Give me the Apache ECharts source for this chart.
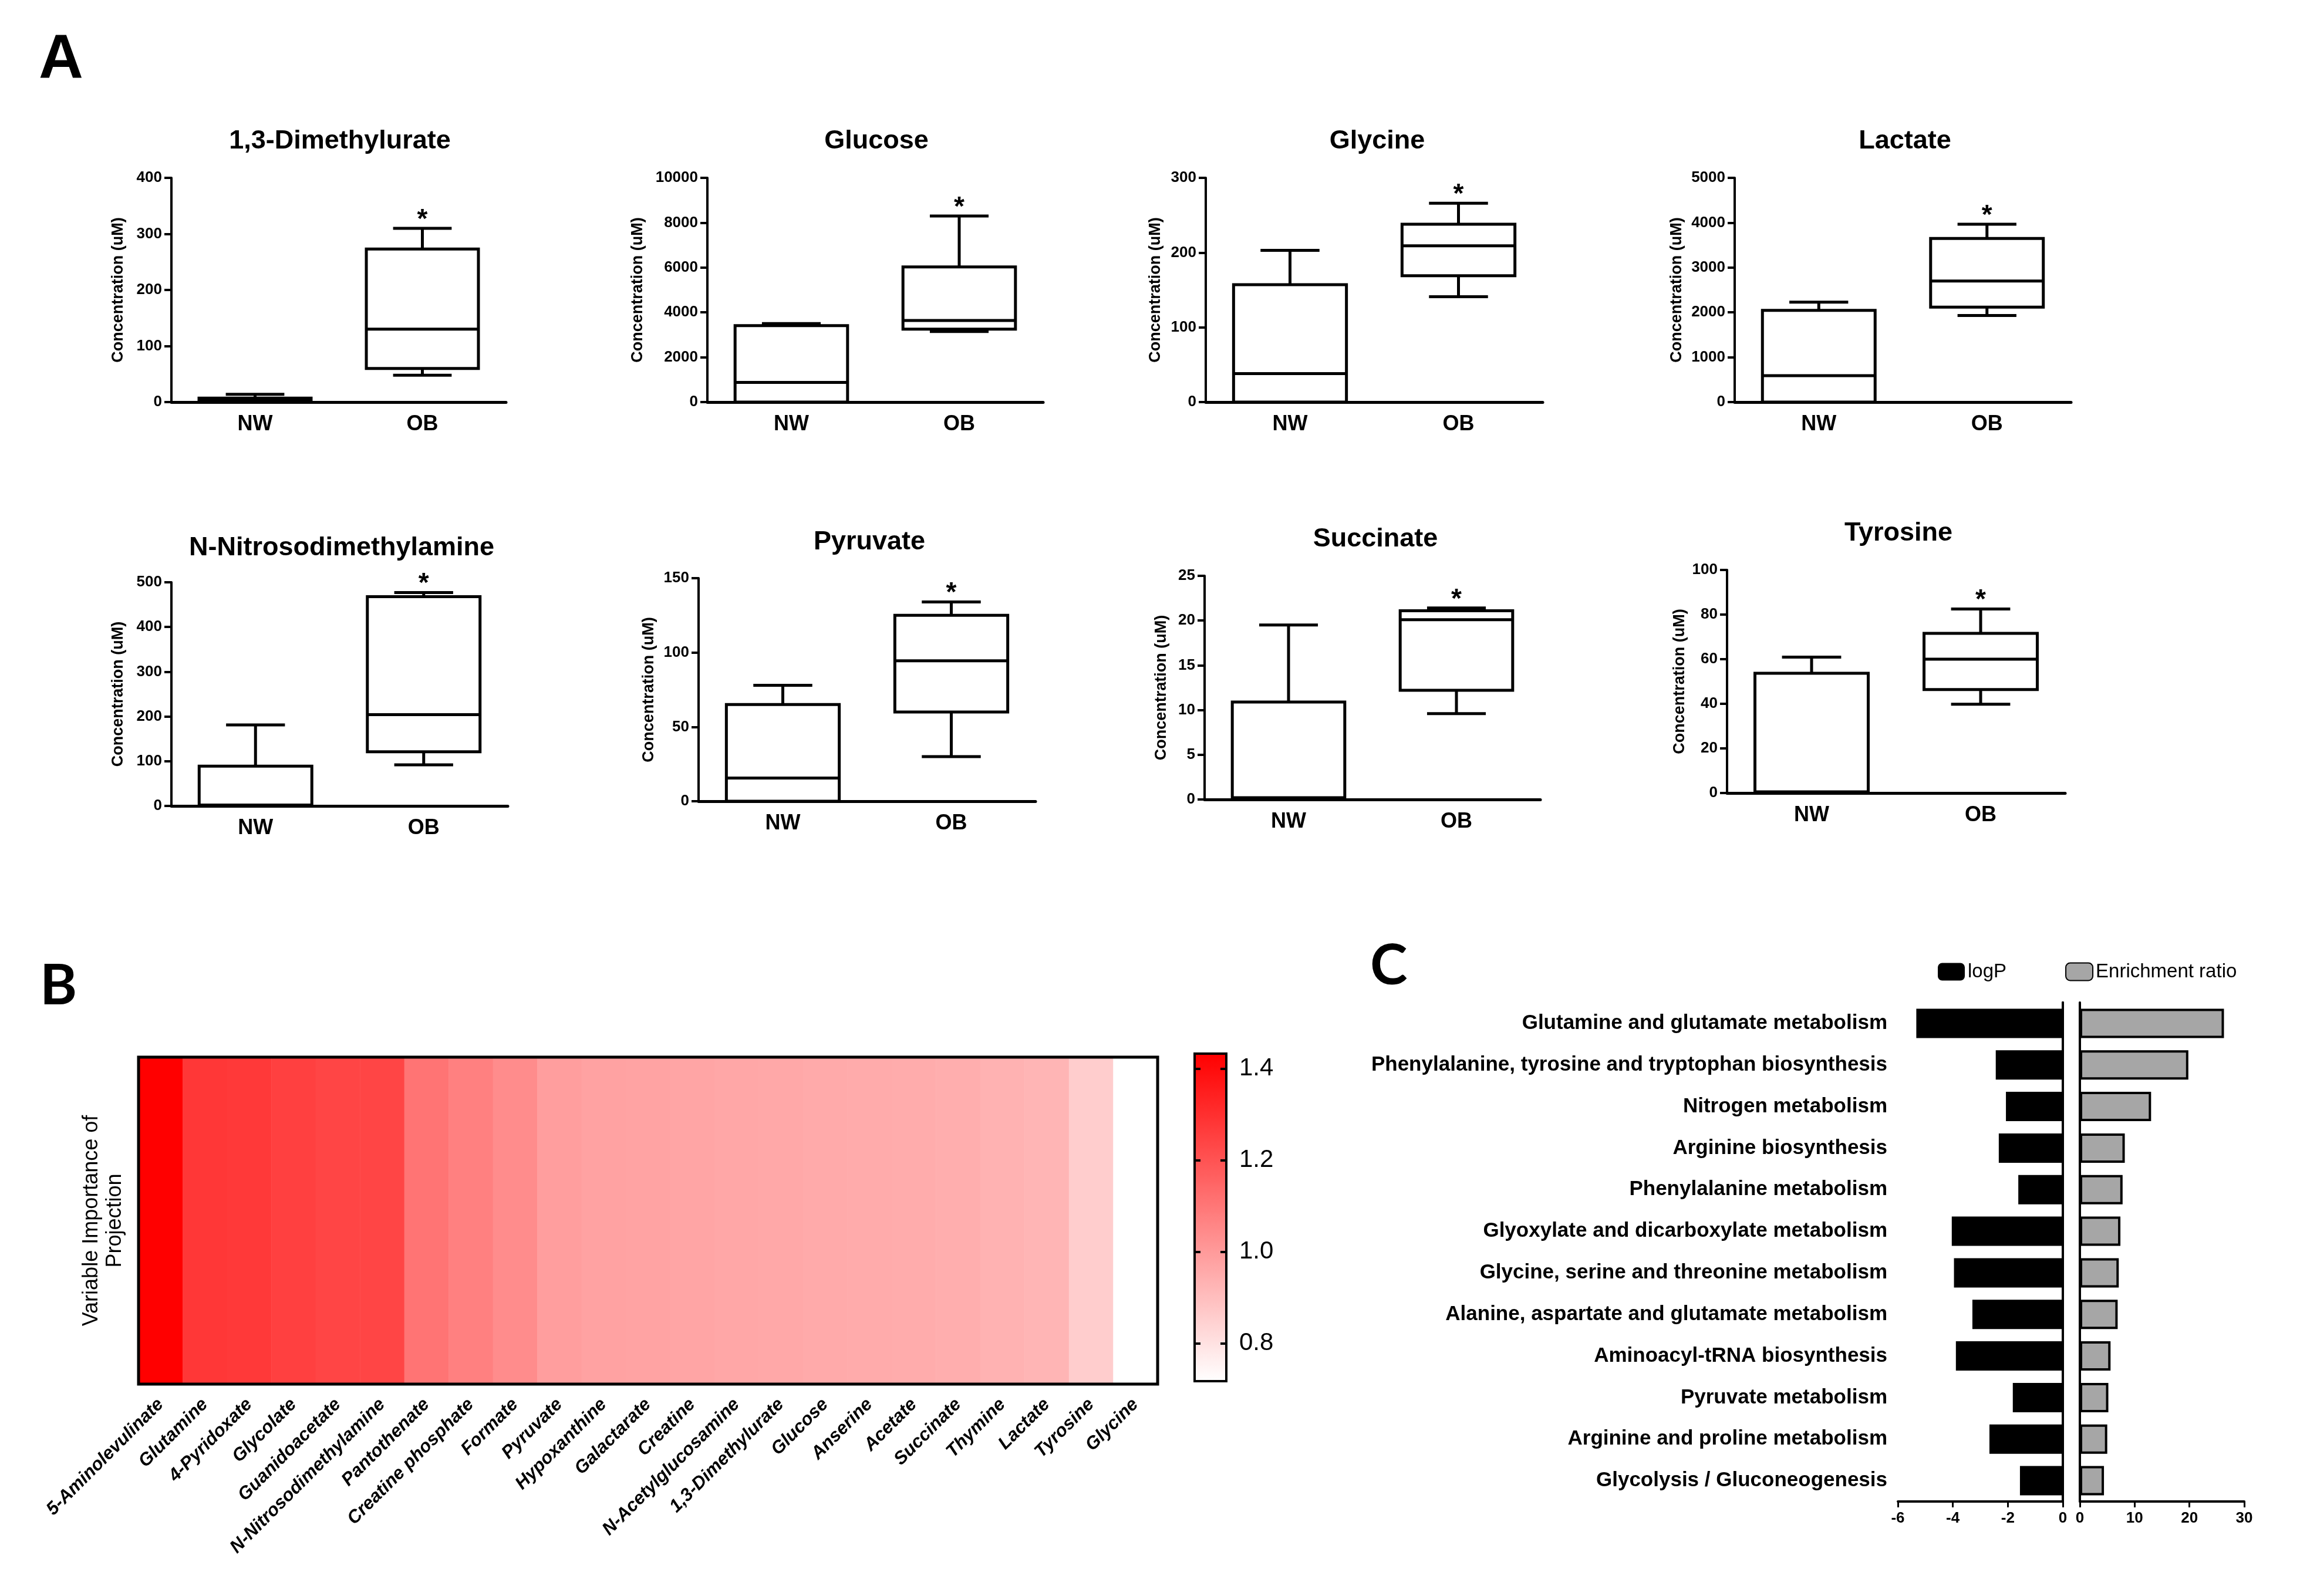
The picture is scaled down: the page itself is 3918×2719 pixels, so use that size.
<!DOCTYPE html>
<html><head><meta charset="utf-8">
<script src="https://cdn.jsdelivr.net/npm/echarts@6/dist/echarts.min.js"></script>
<style>html,body{margin:0;padding:0;background:#fff}#c{width:3918px;height:2719px}</style>
</head><body><div id="c"></div><script>
// ---------- DATA ----------
const groups = ['NW', 'OB'];
const sigFlags = [0, 1];
const boxTitles = ['1,3-Dimethylurate', 'Glucose', 'Glycine', 'Lactate', 'N-Nitrosodimethylamine', 'Pyruvate', 'Succinate', 'Tyrosine'];
// [min, Q1, median, Q3, max]
const dimethylurateNW = [0, 0, 4, 7, 14];
const dimethylurateOB = [48, 60, 130, 273, 310];
const glucoseNW = [0, 0, 880, 3410, 3500];
const glucoseOB = [3150, 3250, 3640, 6030, 8300];
const glycineNW = [0, 0, 38, 157, 203];
const glycineOB = [141, 169, 209, 238, 266];
const lactateNW = [0, 0, 590, 2045, 2230];
const lactateOB = [1930, 2117, 2700, 3650, 3965];
const nitrosoNW = [0, 0, 2, 89, 181];
const nitrosoOB = [92, 121, 204, 468, 477];
const pyruvateNW = [0, 0, 15.6, 65, 78];
const pyruvateOB = [30, 60, 94.4, 125, 134];
const succinateNW = [0, 0, 0.2, 10.9, 19.5];
const succinateOB = [9.6, 12.2, 20.1, 21.1, 21.4];
const tyrosineNW = [0, 0, 0.5, 53.7, 60.9];
const tyrosineOB = [39.8, 46.4, 60, 71.6, 82.5];
const yMaxes = [400, 10000, 300, 5000, 500, 150, 25, 100];
const ySteps = [100, 2000, 100, 1000, 100, 50, 5, 20];

const vipMetabolites = ['5-Aminolevulinate', 'Glutamine', '4-Pyridoxate', 'Glycolate', 'Guanidoacetate', 'N-Nitrosodimethylamine', 'Pantothenate', 'Creatine phosphate', 'Formate', 'Pyruvate', 'Hypoxanthine', 'Galactarate', 'Creatine', 'N-Acetylglucosamine', '1,3-Dimethylurate', 'Glucose', 'Anserine', 'Acetate', 'Succinate', 'Thymine', 'Lactate', 'Tyrosine', 'Glycine'];
const vipScores = [1.433, 1.278, 1.272, 1.253, 1.240, 1.240, 1.108, 1.074, 1.040, 0.990, 0.978, 0.975, 0.970, 0.965, 0.961, 0.956, 0.953, 0.950, 0.945, 0.933, 0.925, 0.857, 0.717];
const vipMin = 0.717, vipMax = 1.433;
const vipTicks = [0.8, 1.0, 1.2, 1.4];

const pathways = ['Glutamine and glutamate metabolism', 'Phenylalanine, tyrosine and tryptophan biosynthesis', 'Nitrogen metabolism', 'Arginine biosynthesis', 'Phenylalanine metabolism', 'Glyoxylate and dicarboxylate metabolism', 'Glycine, serine and threonine metabolism', 'Alanine, aspartate and glutamate metabolism', 'Aminoacyl-tRNA biosynthesis', 'Pyruvate metabolism', 'Arginine and proline metabolism', 'Glycolysis / Gluconeogenesis'];
const logP = [-5.33, -2.44, -2.07, -2.33, -1.62, -4.04, -3.96, -3.29, -3.89, -1.82, -2.67, -1.56];
const enrichmentRatio = [26.3, 19.8, 13.0, 8.2, 7.8, 7.4, 7.1, 6.9, 5.6, 5.2, 5.0, 4.4];

// ---------- LAYOUT ----------
const boxData = [
  [dimethylurateNW, dimethylurateOB], [glucoseNW, glucoseOB], [glycineNW, glycineOB], [lactateNW, lactateOB],
  [nitrosoNW, nitrosoOB], [pyruvateNW, pyruvateOB], [succinateNW, succinateOB], [tyrosineNW, tyrosineOB]
];
const panelLayout = [
  {left: 292, top: 303, width: 570, height: 382, tx: 574, ty: 213, gap: 77},
  {left: 1205, top: 303, width: 572, height: 382, tx: 1488, ty: 213, gap: 105},
  {left: 2054, top: 303, width: 574, height: 382, tx: 2341, ty: 213, gap: 72},
  {left: 2955, top: 303, width: 573, height: 382, tx: 3240, ty: 213, gap: 85},
  {left: 292, top: 992, width: 573, height: 381, tx: 577, ty: 906, gap: 77},
  {left: 1190, top: 985, width: 574, height: 380, tx: 1476, ty: 896, gap: 71},
  {left: 2052, top: 981, width: 572, height: 381, tx: 2338, ty: 891, gap: 60},
  {left: 2942, top: 971, width: 576, height: 380, tx: 3229, ty: 881, gap: 67}
];
const FONT = '"Liberation Sans", Arial, Helvetica, sans-serif';
const BLACK = '#000';

function renderBox(params, api) {
  const idx = api.value(0);
  const mn = api.value(1), q1 = api.value(2), md = api.value(3), q3 = api.value(4), mx = api.value(5);
  const sig = api.value(6);
  const cx = api.coord([idx, md])[0];
  const y = v => api.coord([idx, v])[1];
  const band = api.size([1, 0])[0];
  const bw = band * 0.67, cw = band * 0.35;
  const ls = {stroke: BLACK, lineWidth: 5, fill: null};
  const ch = [
    {type: 'line', shape: {x1: cx, y1: y(q3), x2: cx, y2: y(mx)}, style: ls},
    {type: 'line', shape: {x1: cx - cw / 2, y1: y(mx), x2: cx + cw / 2, y2: y(mx)}, style: ls},
    {type: 'line', shape: {x1: cx, y1: y(q1), x2: cx, y2: y(mn)}, style: ls},
    {type: 'line', shape: {x1: cx - cw / 2, y1: y(mn), x2: cx + cw / 2, y2: y(mn)}, style: ls},
    {type: 'rect', shape: {x: cx - bw / 2, y: y(q3), width: bw, height: y(q1) - y(q3)}, style: {fill: '#fff', stroke: BLACK, lineWidth: 5}},
    {type: 'line', shape: {x1: cx - bw / 2, y1: y(md), x2: cx + bw / 2, y2: y(md)}, style: ls}
  ];
  if (sig) {
    ch.push({type: 'text', style: {text: '*', x: cx, y: y(mx) - 14, align: 'center', verticalAlign: 'middle', font: 'bold 46px ' + FONT, fill: BLACK}});
  }
  return {type: 'group', children: ch};
}

const option = {
  animation: false, backgroundColor: '#fff',
  title: [], grid: [], xAxis: [], yAxis: [], series: [], legend: [], visualMap: [],
  graphic: [
    {type: 'text', left: 66, top: 52, style: {text: 'A', font: 'bold 105px ' + FONT, fill: BLACK}},
    {type: 'text', left: 68, top: 1632, style: {text: 'B', font: 'bold 96px Lato, ' + FONT, fill: BLACK}},
    {type: 'text', left: 2334, top: 1598, style: {text: 'C', font: 'bold 96px Lato, ' + FONT, fill: BLACK}}
  ]
};

boxData.forEach((pair, i) => {
  const L = panelLayout[i];
  option.title.push({text: boxTitles[i], left: L.tx, top: L.ty, textAlign: 'center',
    textStyle: {fontFamily: FONT, fontWeight: 'bold', fontSize: 45, color: BLACK}});
  option.grid.push({left: L.left, top: L.top, width: L.width, height: L.height});
  option.xAxis.push({type: 'category', gridIndex: i, data: groups, z: 5,
    axisLine: {lineStyle: {color: BLACK, width: 5}},
    axisTick: {alignWithLabel: true, length: 12, lineStyle: {color: BLACK, width: 4}},
    axisLabel: {color: BLACK, fontFamily: FONT, fontWeight: 'bold', fontSize: 36, margin: 20}});
  option.yAxis.push({type: 'value', gridIndex: i, min: 0, max: yMaxes[i], interval: ySteps[i], z: 5,
    name: 'Concentration (uM)', nameLocation: 'middle', nameGap: L.gap, nameRotate: 90,
    nameTextStyle: {color: BLACK, fontFamily: FONT, fontWeight: 'bold', fontSize: 27},
    axisLine: {show: true, lineStyle: {color: BLACK, width: 4}},
    axisTick: {show: true, length: 12, lineStyle: {color: BLACK, width: 4}},
    axisLabel: {color: BLACK, fontFamily: FONT, fontWeight: 'bold', fontSize: 26, margin: 16, formatter: v => String(v)},
    splitLine: {show: false}});
  option.series.push({type: 'custom', xAxisIndex: i, yAxisIndex: i, renderItem: renderBox, z: 3,
    encode: {x: 0, y: [1, 2, 3, 4, 5]},
    data: pair.map((d, k) => [k].concat(d).concat([sigFlags[k]]))});
});

// ---------- B: heatmap ----------
option.grid.push({left: 236, top: 1801, width: 1736, height: 557, show: true, borderColor: BLACK, borderWidth: 5, backgroundColor: 'transparent', z: 10}); // grid 8
option.xAxis.push({type: 'category', gridIndex: 8, data: vipMetabolites,
  axisLine: {show: false},
  axisTick: {alignWithLabel: true, length: 16, lineStyle: {color: BLACK, width: 4}},
  axisLabel: {interval: 0, rotate: 45, margin: 30, color: BLACK, fontFamily: FONT, fontStyle: 'italic', fontWeight: 'bold', fontSize: 31}});
option.yAxis.push({type: 'category', gridIndex: 8, data: ['VIP'],
  axisLine: {show: false}, axisTick: {show: false}, axisLabel: {show: false},
  name: 'Variable Importance of\nProjection', nameLocation: 'middle', nameGap: 20, nameRotate: 90,
  nameTextStyle: {color: BLACK, fontFamily: FONT, fontSize: 36, lineHeight: 40, align: 'center'}});
option.series.push({type: 'heatmap', name: 'VIP', xAxisIndex: 8, yAxisIndex: 8,
  data: vipScores.map((v, i) => [i, 0, v])});
const heatSeriesIndex = option.series.length - 1;
option.visualMap.push({type: 'continuous', min: vipMin, max: vipMax, seriesIndex: heatSeriesIndex,
  inRange: {color: ['#FFFFFF', '#FF0000']}, calculable: false, show: true,
  left: 2035, top: 1795, itemWidth: 54, itemHeight: 558, padding: 0, text: null});
// colorbar frame + ticks (grid 9)
option.grid.push({left: 2035, top: 1795, width: 54, height: 558, show: true, borderColor: BLACK, borderWidth: 4, backgroundColor: 'transparent', z: 10});
option.xAxis.push({type: 'value', gridIndex: 9, show: false, min: 0, max: 1});
option.yAxis.push({type: 'value', gridIndex: 9, min: vipMin, max: vipMax, position: 'left', z: 11,
  axisLine: {show: false}, splitLine: {show: false}, axisLabel: {show: false},
  axisTick: {show: true, inside: true, length: 10, customValues: vipTicks, lineStyle: {color: BLACK, width: 4}}});
option.yAxis.push({type: 'value', gridIndex: 9, min: vipMin, max: vipMax, position: 'right', z: 11,
  axisLine: {show: false}, splitLine: {show: false},
  axisTick: {show: true, inside: true, length: 10, customValues: vipTicks, lineStyle: {color: BLACK, width: 4}},
  axisLabel: {show: true, customValues: vipTicks, margin: 22, formatter: v => v.toFixed(1), color: BLACK, fontFamily: FONT, fontSize: 42}});

// ---------- C: pathway bars ----------
option.grid.push({left: 3233, top: 1708, width: 281, height: 850}); // grid 10
option.grid.push({left: 3543, top: 1708, width: 280, height: 850}); // grid 11
const cAxisLabel = {color: BLACK, fontFamily: FONT, fontWeight: 'bold', fontSize: 26, margin: 16};
option.xAxis.push({type: 'value', gridIndex: 10, min: -6, max: 0, interval: 2, z: 5,
  axisLine: {show: true, lineStyle: {color: BLACK, width: 4}},
  axisTick: {show: true, length: 10, lineStyle: {color: BLACK, width: 3}},
  axisLabel: cAxisLabel, splitLine: {show: false}});
option.xAxis.push({type: 'value', gridIndex: 11, min: 0, max: 30, interval: 10, z: 5,
  axisLine: {show: true, lineStyle: {color: BLACK, width: 4}},
  axisTick: {show: true, length: 10, lineStyle: {color: BLACK, width: 3}},
  axisLabel: cAxisLabel, splitLine: {show: false}});
const yLeftIdx = option.yAxis.length;
option.yAxis.push({type: 'category', gridIndex: 10, data: pathways, inverse: true, position: 'left', z: 5,
  axisLine: {show: true, lineStyle: {color: BLACK, width: 4}},
  axisTick: {show: true, alignWithLabel: true, length: 10, lineStyle: {color: BLACK, width: 3}},
  axisLabel: {color: BLACK, fontFamily: FONT, fontWeight: 'bold', fontSize: 35, margin: 18}});
option.yAxis.push({type: 'category', gridIndex: 10, data: pathways, inverse: true, position: 'right', z: 5,
  axisLine: {show: true, lineStyle: {color: BLACK, width: 4}}, axisTick: {show: false}, axisLabel: {show: false}});
const yRightIdx = option.yAxis.length;
option.yAxis.push({type: 'category', gridIndex: 11, data: pathways, inverse: true, position: 'left', z: 5,
  axisLine: {show: true, lineStyle: {color: BLACK, width: 4}}, axisTick: {show: false}, axisLabel: {show: false}});
option.series.push({type: 'bar', name: 'logP', xAxisIndex: 9, yAxisIndex: yLeftIdx, data: logP, barWidth: 50,
  itemStyle: {color: BLACK}});
option.series.push({type: 'bar', name: 'Enrichment ratio', xAxisIndex: 10, yAxisIndex: yRightIdx, data: enrichmentRatio, barWidth: 50,
  itemStyle: {color: '#A6A6A6', borderColor: BLACK, borderWidth: 4}});
option.legend.push({data: ['logP', 'Enrichment ratio'], left: 3296, top: 1634, itemWidth: 46, itemHeight: 30, itemGap: 100,
  textStyle: {color: BLACK, fontFamily: FONT, fontSize: 33}});

// fix x-axis indices for C (xAxis array: 0-7 box, 8 heat, 9 colorbar, 10 logP, 11 enrichment)
option.series[option.series.length - 2].xAxisIndex = 10;
option.series[option.series.length - 1].xAxisIndex = 11;

const chart = echarts.init(document.getElementById('c'), null, {renderer: 'canvas'});
chart.setOption(option);
</script></body></html>
